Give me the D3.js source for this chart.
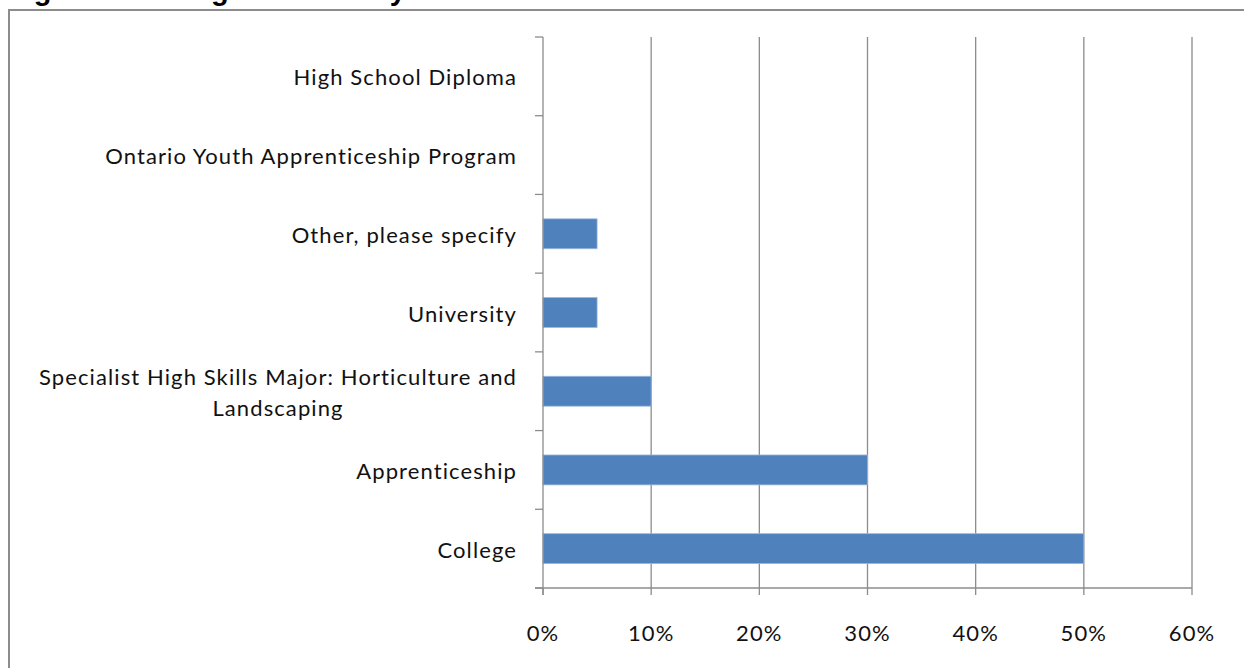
<!DOCTYPE html>
<html>
<head>
<meta charset="utf-8">
<script src="https://cdn.jsdelivr.net/npm/d3@7"></script>
<style>
  html, body { margin: 0; padding: 0; background: #fff; }
  svg { display: block; }
</style>
</head>
<body>
<svg id="chart" width="1244" height="668"></svg>
<script>
const titleText = "Figure 4.7: Program of Study";
const categories = [
  "High School Diploma",
  "Ontario Youth Apprenticeship Program",
  "Other, please specify",
  "University",
  "Specialist High Skills Major: Horticulture and|Landscaping",
  "Apprenticeship",
  "College"
];
const values = [0, 0, 5, 5, 10, 30, 50];
const xTicks = [0, 10, 20, 30, 40, 50, 60];

const svg = d3.select("#chart");
const labelFont = "Lato, 'Open Sans', sans-serif";
const labelSize = 22;
const labelSpacing = "1.1px";

// title (cut off at top)
svg.append("text")
  .attr("x", 8).attr("y", 0)
  .attr("font-family", "Liberation Sans, Arial, sans-serif")
  .attr("font-weight", "bold")
  .attr("font-size", 29)
  .attr("fill", "#000")
  .text(titleText);

// frame
svg.append("rect")
  .attr("x", 9).attr("y", 10)
  .attr("width", 1240).attr("height", 670)
  .attr("fill", "none")
  .attr("stroke", "#8c8c8c")
  .attr("stroke-width", 2);

const pLeft = 543, pRight = 1192, pTop = 37, pBottom = 588;

const x = d3.scaleLinear().domain([0, 60]).range([pLeft, pRight]);
const y = d3.scaleBand().domain(categories).range([pTop, pBottom]).paddingInner(0.62).paddingOuter(0.31);
const yb = d3.scaleBand().domain(categories).range([pTop, pBottom]);

// gridlines
svg.append("g").selectAll("line")
  .data(xTicks.filter(d => d > 0))
  .join("line")
  .attr("x1", d => x(d)).attr("x2", d => x(d))
  .attr("y1", pTop).attr("y2", pBottom)
  .attr("stroke", "#8c8c8c").attr("stroke-width", 1.3);

// bars
svg.append("g").selectAll("rect")
  .data(categories.map((c, i) => ({c, v: values[i]})).filter(d => d.v > 0))
  .join("rect")
  .attr("x", x(0))
  .attr("y", d => y(d.c))
  .attr("width", d => x(d.v) - x(0))
  .attr("height", y.bandwidth())
  .attr("fill", "#4f81bd")
  .attr("stroke", "#9ab8dc")
  .attr("stroke-width", 0.8);

// y axis line and ticks
const yTickPos = d3.range(categories.length + 1).map(i => pTop + i * yb.step());
svg.append("line")
  .attr("x1", pLeft).attr("x2", pLeft).attr("y1", pTop).attr("y2", pBottom + 7)
  .attr("stroke", "#8c8c8c").attr("stroke-width", 1.3);
svg.append("g").selectAll("line")
  .data(yTickPos)
  .join("line")
  .attr("x1", pLeft - 8).attr("x2", pLeft)
  .attr("y1", d => d).attr("y2", d => d)
  .attr("stroke", "#8c8c8c").attr("stroke-width", 1.3);

// x axis line and ticks
svg.append("line")
  .attr("x1", pLeft - 8).attr("x2", pRight).attr("y1", pBottom).attr("y2", pBottom)
  .attr("stroke", "#8c8c8c").attr("stroke-width", 1.3);
svg.append("g").selectAll("line")
  .data(xTicks)
  .join("line")
  .attr("x1", d => x(d)).attr("x2", d => x(d))
  .attr("y1", pBottom).attr("y2", pBottom + 7)
  .attr("stroke", "#8c8c8c").attr("stroke-width", 1.3);

// x tick labels
svg.append("g").selectAll("text")
  .data(xTicks)
  .join("text")
  .attr("x", d => x(d))
  .attr("y", 641)
  .attr("text-anchor", "middle")
  .attr("font-family", labelFont)
  .attr("font-size", labelSize)
  .attr("letter-spacing", labelSpacing)
  .attr("fill", "#111")
  .text(d => d + "%");

// y labels
const lab = svg.append("g");
categories.forEach(c => {
  const lines = c.split("|");
  const cy = yb(c) + yb.bandwidth() / 2;
  const lh = 31;
  const t = lab.append("text")
    .attr("font-family", labelFont)
    .attr("font-size", labelSize)
    .attr("letter-spacing", labelSpacing)
    .attr("fill", "#111");
  if (lines.length === 1) {
    t.attr("x", 517).attr("y", cy + 9).attr("text-anchor", "end").text(lines[0]);
  } else {
    const tmp = lab.append("text").attr("font-family", labelFont)
      .attr("font-size", labelSize).attr("letter-spacing", labelSpacing).text(lines[0]);
    const w = tmp.node().getComputedTextLength();
    tmp.remove();
    const cx = 517 - w / 2;
    lines.forEach((ln, i) => {
      t.append("tspan")
        .attr("x", cx)
        .attr("y", cy + 9 + (i - (lines.length - 1) / 2) * lh)
        .attr("text-anchor", "middle")
        .text(ln);
    });
  }
});
</script>
</body>
</html>
